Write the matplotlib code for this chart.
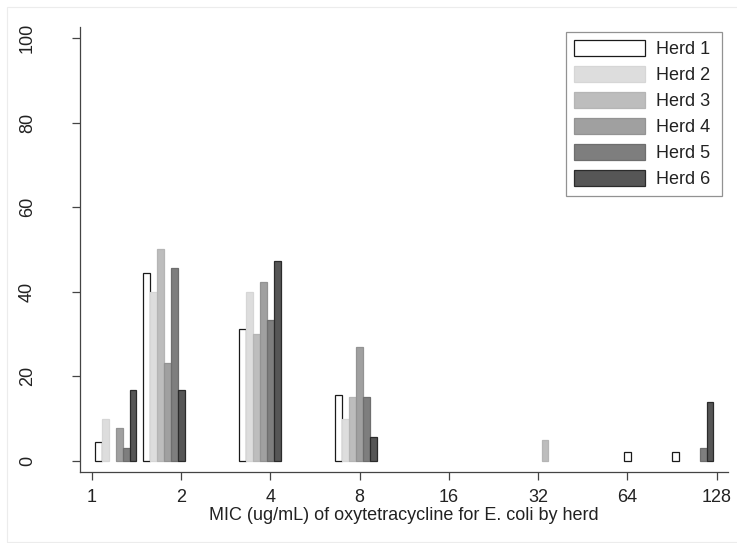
import numpy as np
import matplotlib.pyplot as plt
from matplotlib.patches import Rectangle

plt.rcParams['font.family'] = ['Liberation Sans', 'DejaVu Sans']

# MIC values (ug/mL) and percent of E. coli isolates per herd
mic = [1, 2, 4, 8, 32, 64, 128]
herds = ["Herd 1", "Herd 2", "Herd 3", "Herd 4", "Herd 5", "Herd 6"]
herd1 = [4.4, 44.4, 31.1, 15.6, 0, 2.2, 2.2]
herd2 = [10.0, 40.0, 40.0, 10.0, 0, 0, 0]
herd3 = [0, 50.0, 30.0, 15.0, 5.0, 0, 0]
herd4 = [7.7, 23.1, 42.3, 26.9, 0, 0, 0]
herd5 = [3.0, 45.5, 33.3, 15.2, 0, 0, 3.0]
herd6 = [16.7, 16.7, 47.2, 5.6, 0, 0, 13.9]
tick_labels = ["1", "2", "4", "8", "16", "32", "64", "128"]
y_ticks = [0, 20, 40, 60, 80, 100]

fills = ["#ffffff", "#dddddd", "#bdbdbd", "#a0a0a0", "#7e7e7e", "#565656"]
edges = ["#1a1a1a", "#d6d6d6", "#b5b5b5", "#939393", "#6e6e6e", "#2b2b2b"]

fig = plt.figure(figsize=(7.37, 5.43), dpi=100)
W, H = 737, 543
# light outer frame like the stata graph region
fig.patches.append(Rectangle((6.5 / W, 1 - 542 / H), 740 / W, (542 - 6.5) / H,
                             transform=fig.transFigure, fill=False,
                             edgecolor="#ececec", linewidth=0.8))

ax = fig.add_axes([80 / W, 1 - 472.3 / H, (728 - 80) / W, (472.3 - 26.7) / H])

# histogram on log2(MIC): 13 bins over [0, 7], each bin split into 6 herd bars
nbins = 13
binw = 7 / nbins
groupw = binw * 0.861
bw = groupw / 6
series = [herd1, herd2, herd3, herd4, herd5, herd6]
for m_i, m in enumerate(mic):
    b = min(int(np.log2(m) / binw), nbins - 1)
    left = b * binw + (binw - groupw) / 2
    for h_i, vals in enumerate(series):
        v = vals[m_i]
        if v <= 0:
            continue
        ax.bar(left + h_i * bw, v, width=bw, align='edge', color=fills[h_i],
               edgecolor=edges[h_i], linewidth=0.9)

ax.set_xlim(-0.131, 7.126)
ax.set_ylim(-2.72, 102.7)
ax.set_xticks(range(len(tick_labels)))
ax.set_xticklabels(tick_labels)
ax.set_yticks(y_ticks)
ax.set_yticklabels([str(t) for t in y_ticks], rotation=90, va='center')

for s in ["top", "right"]:
    ax.spines[s].set_visible(False)
for s in ["left", "bottom"]:
    ax.spines[s].set_color("#444444")
    ax.spines[s].set_linewidth(0.9)
ax.tick_params(axis='x', length=5.8, width=0.9, color="#444444", pad=6.3,
               labelsize=13, labelcolor="#222222")
ax.tick_params(axis='y', length=5.8, width=0.9, color="#444444", pad=26,
               labelsize=13, labelcolor="#222222")

ax.set_xlabel("MIC (ug/mL) of oxytetracycline for E. coli by herd",
              fontsize=13, color="#222222", labelpad=0.5)

handles = [Rectangle((0, 0), 1, 1, facecolor=fills[i], edgecolor=edges[i],
                     linewidth=0.9) for i in range(6)]
leg = fig.legend(handles, herds, loc='upper left',
                 bbox_to_anchor=(566 / W, 1 - 197.7 / H, (722 - 566) / W, (197.7 - 32.3) / H),
                 mode='expand', fontsize=13,
                 frameon=True, fancybox=False, handlelength=3.93,
                 handleheight=1.02, labelspacing=0.42, handletextpad=0.65,
                 borderpad=0.42, borderaxespad=0)
leg.get_frame().set_edgecolor("#777777")
leg.get_frame().set_linewidth(0.9)
for t in leg.get_texts():
    t.set_color("#222222")

fig.savefig("out.png", dpi=100)
